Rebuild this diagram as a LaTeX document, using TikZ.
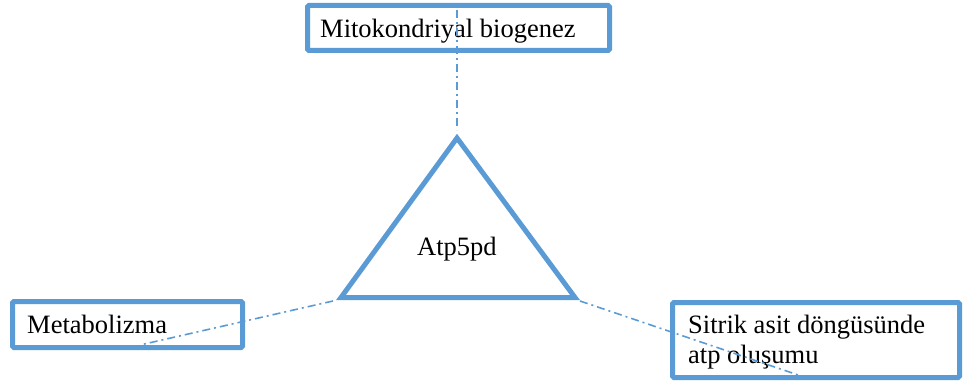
\documentclass[tikz,border=0pt]{standalone}
\usepackage{fontspec}
\setmainfont{Liberation Serif}
\definecolor{boxblue}{RGB}{91,155,213}
\begin{document}
\begin{tikzpicture}[x=1pt,y=-1pt,
  box/.style={draw=boxblue,line width=5pt,rounded corners=1.5pt,fill=white},
  lbl/.style={font=\fontsize{26.5}{30}\selectfont,inner sep=0pt,anchor=base west},
  link/.style={draw=boxblue,line width=1.6pt,dash pattern=on 8pt off 4pt on 2pt off 4pt}]
\useasboundingbox (0,0) rectangle (964,385);
% boxes
\draw[box] (307.5,5.5) rectangle (609.5,50.5);
\draw[box] (12.5,301.5) rectangle (242.5,347.5);
\draw[box] (672.5,302.5) rectangle (959.5,377.5);
% triangle
\coordinate (apex) at (457,138);
\coordinate (bl) at (341,297.5);
\coordinate (br) at (575,297.5);
\draw[draw=boxblue,line width=5pt,line join=miter] (apex) -- (br) -- (bl) -- cycle;
% texts
\node[lbl] (mito) at (320,37.5) {Mitokondriyal biogenez};
\node[lbl] (meta) at (27,333) {Metabolizma};
\node[lbl] (sit1) at (688,333) {Sitrik asit döngüsünde};
\node[lbl] (sit2) at (688,363) {atp oluşumu};
\node[lbl] (atp) at (417,255) {Atp5pd};
% connector ends
\coordinate (topend) at (457,10);
\coordinate (apexend) at (457,130);
\coordinate (blend) at (333,301);
\coordinate (metaend) at (140,345);
\coordinate (brend) at (580,301);
\coordinate (sitend) at (807,378);
\draw[link] (topend) -- (apexend);
\draw[link] (blend) -- (metaend);
\draw[link] (brend) -- (sitend);
\end{tikzpicture}
\end{document}
